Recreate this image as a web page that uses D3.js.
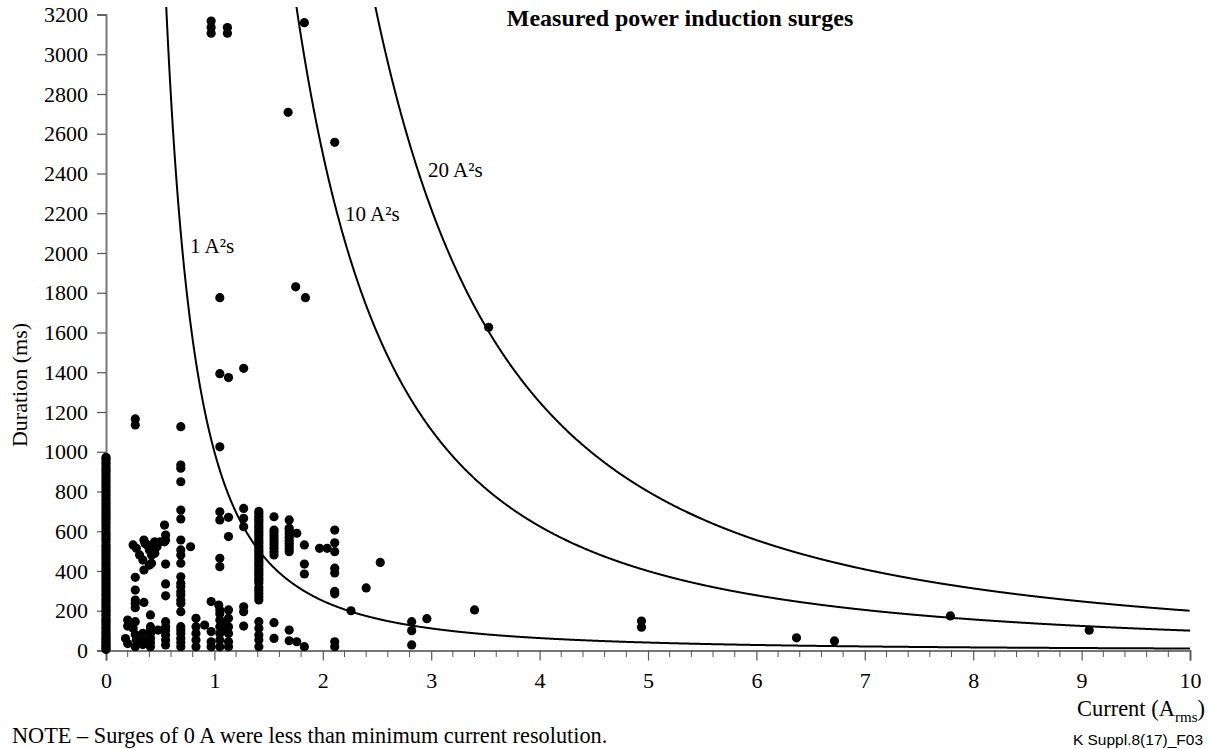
<!DOCTYPE html>
<html>
<head>
<meta charset="utf-8">
<script src="https://cdn.jsdelivr.net/npm/d3@7"></script>
<style>
body { margin: 0; background: #fff; }
text { font-family: "Liberation Serif", "Times New Roman", serif; fill: #000; }
</style>
</head>
<body>
<div id="chart"></div>
<script>
// surges recorded at 0 A (below current resolution), durations in ms
const zeroSurges = [5, 12, 21, 28, 38, 47, 56, 66, 75, 86, 95, 108, 118, 131, 142, 151, 160, 173, 183, 196, 205, 218, 229,
  240, 251, 262, 276, 285, 298, 311, 322, 335, 346, 358, 371, 382, 395, 406, 418, 431, 442, 455, 468, 481, 492, 505, 518,
  530, 546, 560, 572, 585, 598, 612, 626, 640, 652, 665, 678, 690, 703, 715, 728, 741, 755, 768, 781, 795, 808, 821, 835,
  848, 861, 875, 888, 901, 912, 925, 938, 950, 962, 972];

// [current A, duration ms]
const lowSurges = [[0.18,60],[0.2,35],[0.2,153],[0.2,123],[0.25,112],[0.27,145],[0.27,19],[0.28,53],[0.27,80],
  [0.27,1165],[0.27,1135],[0.27,368],[0.27,304],[0.27,254],[0.27,237],[0.27,215],
  [0.25,531],[0.28,514],[0.31,481],[0.34,455],[0.35,405],[0.35,556],[0.36,539],[0.38,531],[0.40,506],[0.42,481],
  [0.40,430],[0.42,439],[0.42,522],[0.44,539],[0.44,497],[0.47,522],[0.45,489],[0.45,547],[0.50,547],[0.54,547],
  [0.55,581],[0.55,556],[0.54,631],
  [0.35,242],[0.41,179],[0.41,120],[0.41,103],[0.41,86],[0.41,61],[0.41,40],[0.41,19],[0.34,86],[0.34,53],[0.34,30],[0.48,103],
  [0.55,435],[0.55,335],[0.55,275],[0.55,145],[0.55,120],[0.55,103],[0.55,78],[0.55,53],[0.55,28],
  [0.69,1126],[0.69,933],[0.69,917],[0.69,849],[0.69,707],[0.69,662],[0.69,556],[0.69,506],[0.69,481],[0.69,439],
  [0.69,371],[0.69,338],[0.69,321],[0.69,296],[0.69,279],[0.69,254],[0.69,237],[0.69,195],[0.69,120],[0.69,103],
  [0.69,86],[0.69,61],[0.69,40],[0.69,19],
  [0.78,522],[0.83,162],[0.83,120],[0.83,86],[0.83,53],[0.83,19],[0.91,128],
  [0.97,246],[0.97,95],[0.97,44],[0.97,19],[0.97,3167],[0.97,3134],[0.97,3106],
  [1.05,1775],[1.05,1393],[1.05,1025],[1.05,698],[1.05,657],[1.05,464],[1.05,422],[1.04,229],[1.05,204],[1.05,185],
  [1.05,153],[1.05,120],[1.05,86],[1.05,53],[1.05,19],[1.08,137],[1.08,103],
  [1.12,3134],[1.12,3106],[1.13,1373],[1.13,670],[1.13,573],[1.13,204],[1.13,162],[1.13,120],[1.13,86],[1.13,44],[1.13,19],
  [1.27,1420],[1.27,715],[1.27,665],[1.27,623],[1.27,220],[1.27,195],[1.27,123]];

const midSurges = [[1.41,700],[1.41,688],[1.41,676],[1.41,661],[1.41,650],[1.41,637],[1.41,624],[1.41,613],[1.41,600],
  [1.41,587],[1.41,576],[1.41,561],[1.41,549],[1.41,538],[1.41,524],[1.41,511],[1.41,500],[1.41,487],[1.41,476],
  [1.41,462],[1.41,449],[1.41,437],[1.41,426],[1.41,411],[1.41,400],[1.41,388],[1.41,377],[1.41,363],[1.41,352],
  [1.41,339],[1.41,318],[1.41,302],[1.41,287],[1.41,270],[1.41,254],[1.41,145],[1.41,112],[1.41,78],[1.41,53],[1.41,19],
  [1.55,673],[1.55,606],[1.55,592],[1.55,577],[1.55,561],[1.55,546],[1.55,531],[1.55,515],[1.55,497],[1.55,481],[1.55,140],[1.55,61],
  [1.69,657],[1.69,615],[1.69,601],[1.69,586],[1.69,570],[1.69,555],[1.69,540],[1.69,526],[1.69,511],[1.69,497],[1.69,103],[1.69,49],
  [1.76,590],[1.76,44],[1.68,2708],[1.75,1830],
  [1.83,531],[1.83,435],[1.83,385],[1.83,19],[1.84,1775],[1.83,3159],[1.97,514],[2.04,514],
  [2.11,2557],[2.11,606],[2.11,542],[2.11,497],[2.11,414],[2.11,390],[2.11,297],[2.11,285],[2.11,44],[2.11,19]];

const highSurges = [[2.26,200],[2.40,315],[2.53,443],[2.82,145],[2.82,100],[2.82,28],[2.96,160],[3.40,204],
  [3.53,1626],[4.94,148],[4.94,117],[6.37,64],[6.72,48],[7.79,174],[9.07,102]];

// constant I²t curves, A²s
const energies = [1, 10, 20];
const curveLabels = ["1 A²s", "10 A²s", "20 A²s"];
const yTicks = d3.range(0, 3201, 200);
const xTicks = d3.range(0, 11, 1);

let svg = d3.select("#chart").append("svg").attr("width", 1208).attr("height", 749);

let x = d3.scaleLinear().domain([0, 10]).range([106, 1190]);
let y = d3.scaleLinear().domain([0, 3200]).range([650.5, 14.5]);

svg.append("defs").append("clipPath").attr("id", "plot")
  .append("rect").attr("x", 106).attr("y", 7).attr("width", 1090).attr("height", 645);

// curves
let line = d3.line().x(d => x(d[0])).y(d => y(d[1]));
energies.forEach(function(e) {
  let start = Math.sqrt(e * 1000 / 3300);
  let pts = d3.range(start, 10.001, 0.005).map(i => [i, e * 1000 / (i * i)]);
  svg.append("path").datum(pts)
    .attr("clip-path", "url(#plot)")
    .attr("fill", "none").attr("stroke", "#000").attr("stroke-width", 2)
    .attr("d", line);
});

// axes
let yAxis = d3.axisLeft(y).tickValues(yTicks).tickSize(9).tickPadding(9).tickFormat(d3.format("d"));
let gy = svg.append("g").attr("transform", "translate(106,0)").call(yAxis);
gy.selectAll("text").style("font-size", "22px").style("font-family", "Liberation Serif");

let xAxis = d3.axisBottom(x).tickValues(xTicks).tickSize(10).tickPadding(12).tickFormat(d3.format("d"));
let gx = svg.append("g").attr("transform", "translate(0,650.5)").call(xAxis);
gx.selectAll("text").style("font-size", "22px").style("font-family", "Liberation Serif");

let minor = d3.range(0, 10.01, 0.2).filter(v => Math.abs(v - Math.round(v)) > 0.01);
svg.append("g").selectAll("line").data(minor).join("line")
  .attr("x1", d => x(d)).attr("x2", d => x(d))
  .attr("y1", 650.5).attr("y2", 657)
  .attr("stroke", "#555").attr("stroke-width", 1);

[gx, gy].forEach(g => {
  g.select(".domain").attr("stroke", "#777").attr("stroke-width", 2);
  g.selectAll(".tick line").attr("stroke", "#555").attr("stroke-width", 1.2);
});

// points
let allPoints = zeroSurges.map(d => [0, d]).concat(lowSurges, midSurges, highSurges);
svg.append("g").selectAll("circle").data(allPoints).join("circle")
  .attr("cx", d => x(d[0])).attr("cy", d => y(d[1])).attr("r", 4.6)
  .attr("fill", "#000");

// labels
let labelPos = [[0.775, 2000], [2.205, 2161], [2.97, 2382]];
curveLabels.forEach(function(t, i) {
  svg.append("text").attr("x", x(labelPos[i][0])).attr("y", y(labelPos[i][1]))
    .style("font-size", "21px").text(t);
});

svg.append("text").attr("x", 680).attr("y", 26).attr("text-anchor", "middle")
  .style("font-size", "24px").style("font-weight", "bold")
  .text("Measured power induction surges");

svg.append("text").attr("transform", "translate(27,385) rotate(-90)").attr("text-anchor", "middle")
  .style("font-size", "22px").text("Duration (ms)");

let xt = svg.append("text").attr("x", 1205).attr("y", 716).attr("text-anchor", "end").style("font-size", "22.5px");
xt.append("tspan").text("Current (A");
xt.append("tspan").attr("dy", 6).style("font-size", "15px").text("rms");
xt.append("tspan").attr("dy", -6).text(")");

svg.append("text").attr("x", 12).attr("y", 743).style("font-size", "22.3px")
  .text("NOTE – Surges of 0 A were less than minimum current resolution.");

svg.append("text").attr("x", 1203).attr("y", 745).attr("text-anchor", "end")
  .style("font-family", "Liberation Sans, Arial, sans-serif").style("font-size", "15.5px")
  .text("K Suppl.8(17)_F03");
</script>
</body>
</html>
